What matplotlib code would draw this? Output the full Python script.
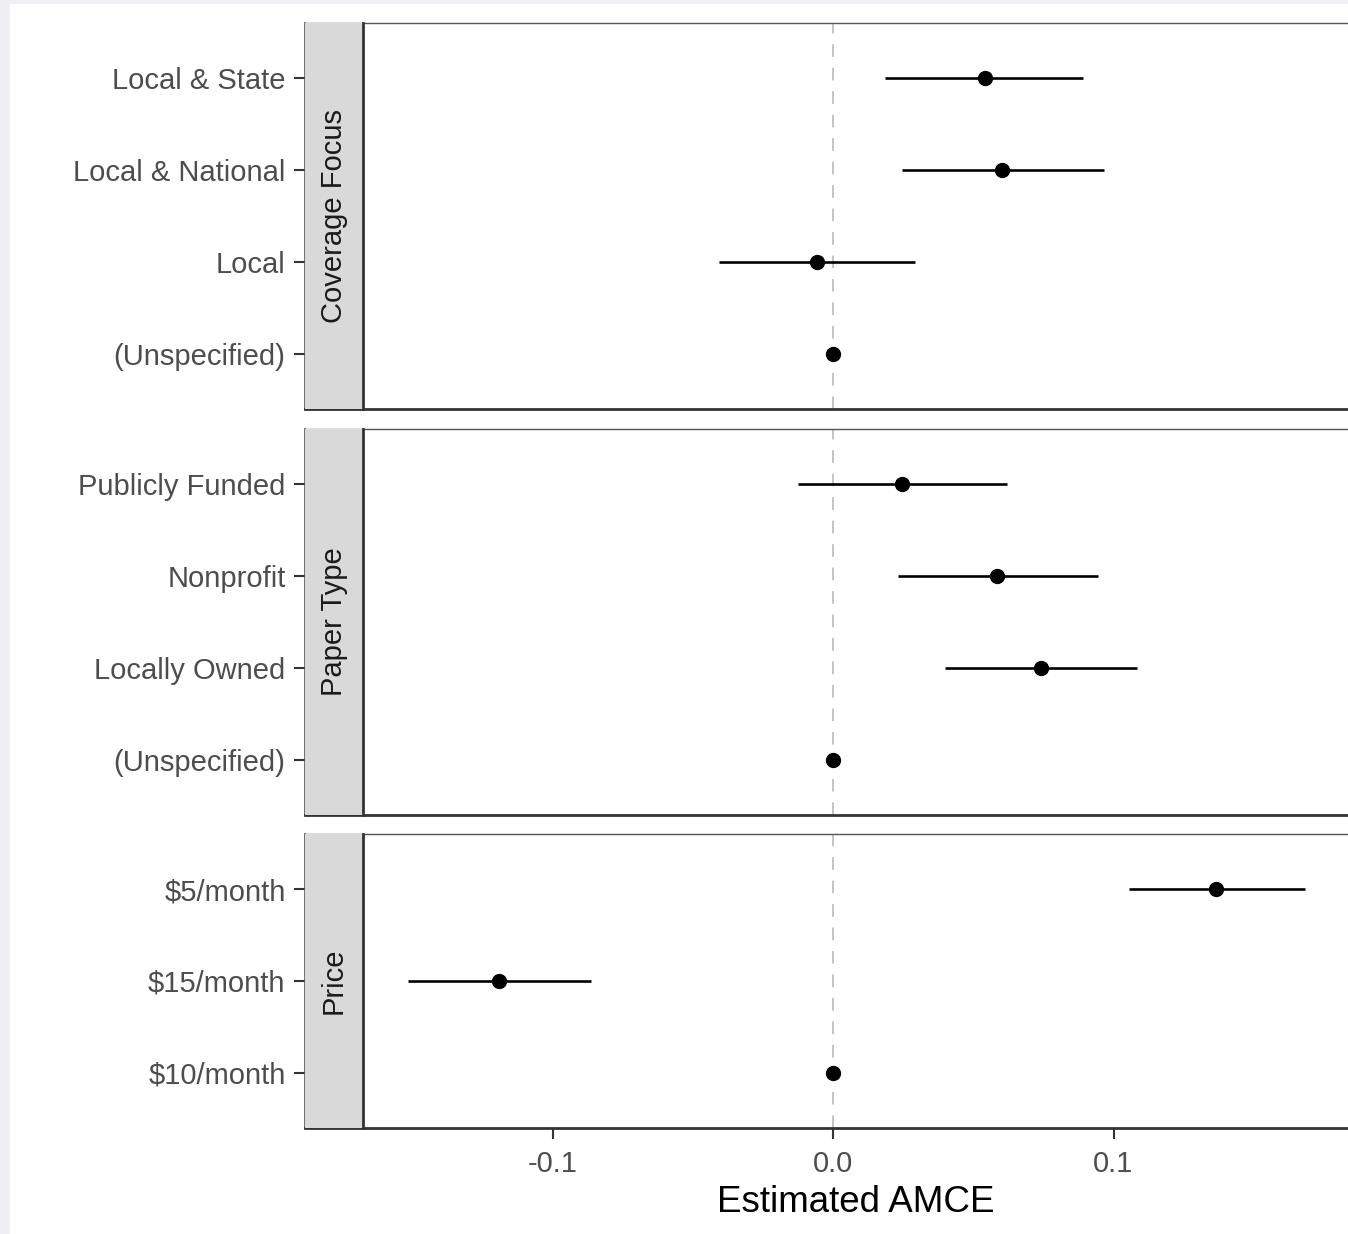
import matplotlib
matplotlib.use("Agg")
import matplotlib.pyplot as plt
from matplotlib.patches import Rectangle

plt.rcParams["font.family"] = ["Liberation Sans", "DejaVu Sans"]

# Facet groups, levels (listed top to bottom), AMCE estimates and 95% CIs
groups = ["Coverage Focus", "Paper Type", "Price"]

coverage_levels = ["Local & State", "Local & National", "Local", "(Unspecified)"]
coverage_est = [0.0542, 0.0602, -0.0057, 0.0]
coverage_lo = [0.0185, 0.0246, -0.0406, 0.0]
coverage_hi = [0.0891, 0.0966, 0.0292, 0.0]

paper_levels = ["Publicly Funded", "Nonprofit", "Locally Owned", "(Unspecified)"]
paper_est = [0.0246, 0.0585, 0.0742, 0.0]
paper_lo = [-0.0125, 0.0232, 0.0399, 0.0]
paper_hi = [0.0620, 0.0945, 0.1084, 0.0]

price_levels = ["$5/month", "$15/month", "$10/month"]
price_est = [0.1365, -0.1191, 0.0]
price_lo = [0.1055, -0.1515, 0.0]
price_hi = [0.1683, -0.0863, 0.0]

x_ticks = [-0.1, 0.0, 0.1]
x_ticklabels = ["-0.1", "0.0", "0.1"]

facets = [
    (coverage_levels, coverage_est, coverage_lo, coverage_hi),
    (paper_levels, paper_est, paper_lo, paper_hi),
    (price_levels, price_est, price_lo, price_hi),
]

W, H = 1348, 1234
DPI = 100
fig = plt.figure(figsize=(W / DPI, H / DPI), dpi=DPI)
fig.patch.set_facecolor("white")

# thin light frame along the top and left edges
fig.patches.append(Rectangle((0, 1 - 4 / H), 1, 4 / H, transform=fig.transFigure,
                             facecolor="#f0f0f4", edgecolor="none", zorder=0))
fig.patches.append(Rectangle((0, 0), 10 / W, 1, transform=fig.transFigure,
                             facecolor="#f0f0f4", edgecolor="none", zorder=0))

# panel layout in pixels (top, bottom); axes include the left strip
panel_px = [(23, 409), (429, 815), (834, 1128)]
ax_left_px, ax_right_px = 305, 1348
strip_px = 58
zero_px, per_tenth_px = 833, 280.5

xlim = ((ax_left_px - zero_px) / (per_tenth_px * 10),
        (ax_right_px - zero_px) / (per_tenth_px * 10))
strip_frac = strip_px / (ax_right_px - ax_left_px)

label_color = "#4d4d4d"
dark = "#333333"

for i, ((levels, est, lo, hi), (top, bot)) in enumerate(zip(facets, panel_px)):
    ax = fig.add_axes([ax_left_px / W, 1 - bot / H,
                       (ax_right_px - ax_left_px) / W, (bot - top) / H])
    n = len(levels)
    ypos = list(range(n, 0, -1))
    ax.set_xlim(*xlim)
    ax.set_ylim(0.4, n + 0.6)

    ax.axvline(0, color="#bfbfbf", lw=1.3, dashes=(7, 6), zorder=1)
    ax.hlines(ypos, lo, hi, color="black", lw=1.9, zorder=2)
    ax.plot(est, ypos, "o", color="black", markersize=10, zorder=3)

    # strip on the left side of the panel
    ax.add_patch(Rectangle((0, 0), strip_frac, 1, transform=ax.transAxes,
                           facecolor="#d9d9d9", edgecolor="none", zorder=4))
    ax.plot([strip_frac, strip_frac], [0, 1], transform=ax.transAxes,
            color=dark, lw=2.0, zorder=5, clip_on=False)
    ax.text(strip_frac / 2, 0.5, groups[i], transform=ax.transAxes,
            rotation=90, ha="center", va="center", fontsize=21,
            color="#1a1a1a", zorder=6)

    ax.set_yticks(ypos)
    ax.set_yticklabels(levels)
    ax.tick_params(axis="y", length=8, width=1.5, color=dark, pad=6,
                   labelsize=21, labelcolor=label_color)

    ax.spines["right"].set_visible(False)
    ax.spines["top"].set_color("#555555")
    ax.spines["top"].set_linewidth(1.0)
    ax.spines["left"].set_color("#555555")
    ax.spines["left"].set_linewidth(1.2)
    ax.spines["bottom"].set_color(dark)
    ax.spines["bottom"].set_linewidth(2.0)

    ax.set_xticks(x_ticks)
    if i == len(facets) - 1:
        ax.set_xticklabels(x_ticklabels)
        ax.tick_params(axis="x", length=8, width=1.5, color=dark, pad=8,
                       labelsize=21, labelcolor=label_color)
    else:
        ax.tick_params(axis="x", length=0, labelbottom=False)

fig.text(856 / W, 1 - 1202 / H, "Estimated AMCE", ha="center", va="center",
         fontsize=26.5, color="black")

fig.savefig("out.png", dpi=DPI)
